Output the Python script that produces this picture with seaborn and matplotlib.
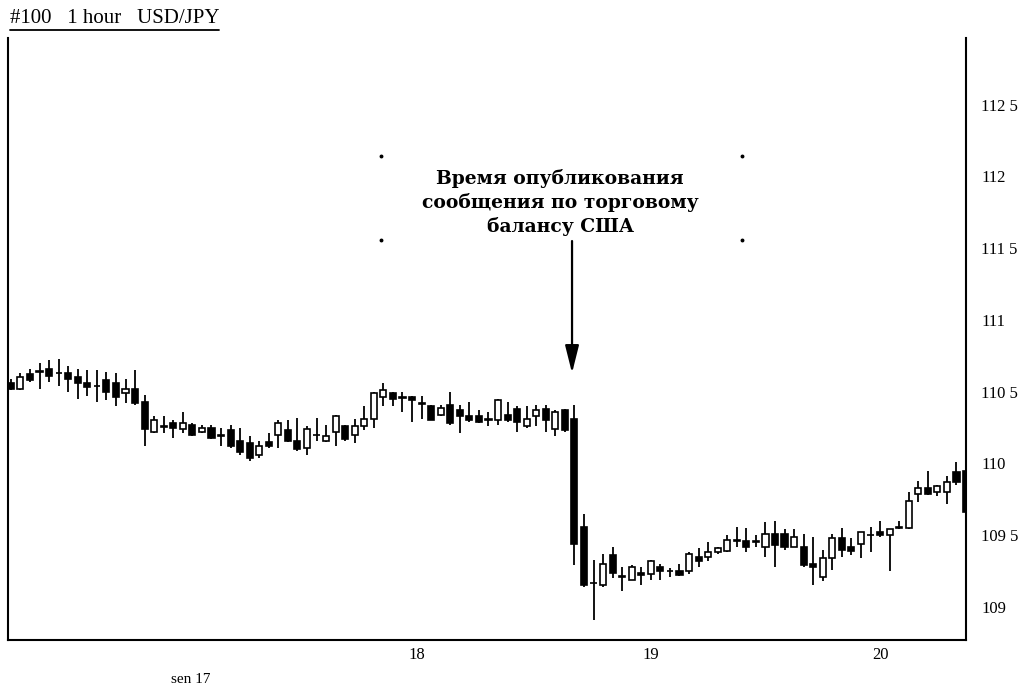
import numpy as np
import pandas as pd
import seaborn as sns
import matplotlib.pyplot as plt
from matplotlib.lines import Line2D

# hourly USD/JPY candles (open, high, low, close)
opens = [110.56, 110.52, 110.62, 110.64, 110.66, 110.63, 110.63, 110.60, 110.56, 110.54,
         110.58, 110.56, 110.49, 110.52, 110.43, 110.22, 110.26, 110.28, 110.24, 110.27,
         110.22, 110.25, 110.20, 110.23, 110.16, 110.14, 110.06, 110.15, 110.20, 110.23,
         110.16, 110.11, 110.20, 110.16, 110.22, 110.26, 110.20, 110.26, 110.31, 110.46,
         110.49, 110.46, 110.46, 110.42, 110.40, 110.34, 110.41, 110.37, 110.33, 110.33,
         110.31, 110.30, 110.34, 110.38, 110.26, 110.33, 110.38, 110.24, 110.37, 110.31,
         109.56, 109.17, 109.15, 109.36, 109.215, 109.19, 109.24, 109.23, 109.28, 109.253,
         109.25, 109.25, 109.35, 109.35, 109.38, 109.39, 109.46, 109.46, 109.462, 109.42,
         109.51, 109.51, 109.42, 109.42, 109.30, 109.21, 109.34, 109.48, 109.42, 109.44,
         109.50, 109.52, 109.50, 109.553, 109.55, 109.79, 109.83, 109.80, 109.80, 109.94,
         109.95]
highs = [110.59, 110.63, 110.66, 110.70, 110.72, 110.73, 110.68, 110.66, 110.65, 110.65,
         110.64, 110.63, 110.59, 110.65, 110.48, 110.33, 110.33, 110.30, 110.36, 110.28,
         110.27, 110.27, 110.25, 110.27, 110.25, 110.19, 110.16, 110.21, 110.30, 110.30,
         110.32, 110.26, 110.32, 110.27, 110.34, 110.27, 110.31, 110.40, 110.50, 110.56,
         110.50, 110.50, 110.47, 110.47, 110.41, 110.41, 110.50, 110.41, 110.43, 110.37,
         110.36, 110.45, 110.43, 110.40, 110.40, 110.41, 110.41, 110.37, 110.38, 110.41,
         109.65, 109.33, 109.37, 109.42, 109.28, 109.29, 109.28, 109.33, 109.30, 109.27,
         109.30, 109.38, 109.41, 109.45, 109.42, 109.50, 109.56, 109.55, 109.50, 109.59,
         109.60, 109.54, 109.54, 109.51, 109.49, 109.40, 109.51, 109.55, 109.48, 109.525,
         109.56, 109.60, 109.545, 109.60, 109.80, 109.88, 109.95, 109.85, 109.91, 110.01,
         110.00]
lows = [110.51, 110.51, 110.57, 110.52, 110.57, 110.54, 110.50, 110.45, 110.47, 110.43,
        110.44, 110.40, 110.42, 110.41, 110.12, 110.21, 110.21, 110.18, 110.21, 110.19,
        110.21, 110.17, 110.12, 110.11, 110.06, 110.02, 110.04, 110.11, 110.11, 110.15,
        110.09, 110.06, 110.16, 110.15, 110.12, 110.16, 110.14, 110.23, 110.25, 110.40,
        110.40, 110.36, 110.29, 110.31, 110.30, 110.33, 110.27, 110.21, 110.29, 110.28,
        110.26, 110.27, 110.29, 110.22, 110.25, 110.26, 110.22, 110.19, 110.22, 109.29,
        109.14, 108.91, 109.14, 109.20, 109.11, 109.185, 109.15, 109.19, 109.19, 109.21,
        109.215, 109.23, 109.28, 109.32, 109.37, 109.385, 109.42, 109.38, 109.42, 109.35,
        109.28, 109.40, 109.415, 109.28, 109.15, 109.18, 109.26, 109.35, 109.36, 109.34,
        109.38, 109.485, 109.25, 109.54, 109.54, 109.73, 109.78, 109.77, 109.72, 109.85,
        109.62]
closes = [110.52, 110.60, 110.58, 110.637, 110.61, 110.627, 110.59, 110.56, 110.53, 110.537,
          110.50, 110.46, 110.52, 110.42, 110.24, 110.30, 110.257, 110.25, 110.28, 110.20,
          110.25, 110.18, 110.19, 110.12, 110.08, 110.04, 110.12, 110.12, 110.28, 110.16,
          110.10, 110.24, 110.197, 110.19, 110.33, 110.17, 110.26, 110.31, 110.49, 110.51,
          110.45, 110.455, 110.44, 110.415, 110.30, 110.39, 110.28, 110.33, 110.30, 110.29,
          110.305, 110.44, 110.30, 110.29, 110.31, 110.37, 110.30, 110.36, 110.23, 109.44,
          109.15, 109.165, 109.30, 109.24, 109.21, 109.28, 109.22, 109.32, 109.25, 109.25,
          109.224, 109.37, 109.32, 109.38, 109.41, 109.47, 109.462, 109.42, 109.455, 109.51,
          109.43, 109.42, 109.49, 109.29, 109.28, 109.34, 109.48, 109.40, 109.39, 109.52,
          109.501, 109.50, 109.54, 109.555, 109.74, 109.83, 109.79, 109.84, 109.87, 109.87,
          109.66]

price_ticks = [109, 109.5, 110, 110.5, 111, 111.5, 112, 112.5]
price_labels = ["109", "109 5", "110", "110 5", "111", "111 5", "112", "112 5"]
day_ticks = [42.5, 67, 91]
day_labels = ["18", "19", "20"]

df = pd.DataFrame({"open": opens, "high": highs, "low": lows, "close": closes})
df["bar"] = np.arange(len(df))
df["up"] = df["close"] >= df["open"]
df["body_lo"] = df[["open", "close"]].min(axis=1)
df["body_h"] = (df["close"] - df["open"]).abs().clip(lower=0.004)

sns.set_theme(style="white")
plt.rcParams["font.family"] = ["Liberation Serif", "DejaVu Serif"]
plt.rcParams.update({"text.color": "black", "xtick.color": "black",
                     "ytick.color": "black", "axes.edgecolor": "black"})

fig = plt.figure(figsize=(10.29, 6.88), dpi=100)
ax = fig.add_axes([0.0078, 0.0698, 0.931, 0.875])

# wicks then bodies
ax.vlines(df["bar"], df["low"], df["high"], color="black", lw=1.3, zorder=2)
ax.bar(df["bar"], df["body_h"], bottom=df["body_lo"], width=0.64,
       color=np.where(df["up"], "white", "black"), edgecolor="black", lw=1.2, zorder=3)

ax.set_xlim(-0.3, 100)
ax.set_ylim(108.77, 112.965)

ax.yaxis.tick_right()
ax.set_yticks(price_ticks)
ax.set_yticklabels(price_labels)
ax.set_xticks(day_ticks)
ax.set_xticklabels(day_labels)
ax.tick_params(axis="y", length=0, pad=11, labelsize=12, colors="black")
ax.tick_params(axis="x", length=0, pad=5, labelsize=12, colors="black")
ax.text(18.8, -0.055, "sen 17", transform=ax.get_xaxis_transform(),
        ha="center", va="top", fontsize=11)

sns.despine(ax=ax, top=True, right=False, left=False, bottom=False)
for side in ["left", "right", "bottom"]:
    ax.spines[side].set_color("black")
    ax.spines[side].set_linewidth(1.5)
ax.grid(False)

# note about the US trade balance release
ax.text(57.5, 111.82, "Время опубликования\nсообщения по торговому\nбалансу США",
        ha="center", va="center", fontsize=13.5, fontweight="bold",
        family=["DejaVu Serif"], linespacing=1.32)
ax.annotate("", xy=(58.75, 110.63), xytext=(58.75, 111.55),
            arrowprops=dict(arrowstyle="-|>,head_width=0.35,head_length=1.4",
                            color="black", lw=1.6, shrinkA=0, shrinkB=0))
ax.plot([38.8, 76.5, 38.8, 76.5], [112.14, 112.14, 111.56, 111.56],
        ls="none", marker="o", ms=1.8, color="black")

# underlined header
title = fig.text(0.0097, 0.966, "#100   1 hour   USD/JPY", fontsize=15, va="baseline")
fig.canvas.draw()
bb = title.get_window_extent().transformed(fig.transFigure.inverted())
fig.add_artist(Line2D([bb.x0, bb.x1], [bb.y0 - 0.002, bb.y0 - 0.002],
                      transform=fig.transFigure, color="black", lw=1.3))

fig.savefig("out.png", dpi=100)
